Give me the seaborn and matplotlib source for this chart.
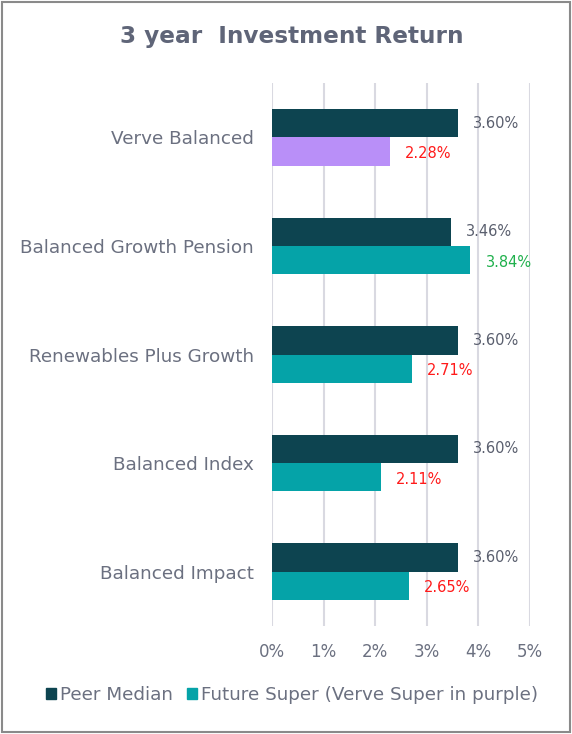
import matplotlib.pyplot as plt
import matplotlib.patches as mpatches
import matplotlib.ticker as mticker
import seaborn as sns
import pandas as pd

funds = ['Verve Balanced', 'Balanced Growth Pension', 'Renewables Plus Growth',
         'Balanced Index', 'Balanced Impact']
peer_median = [3.60, 3.46, 3.60, 3.60, 3.60]
future_super = [2.28, 3.84, 2.71, 2.11, 2.65]
series_names = ['Peer Median', 'Future Super (Verve Super in purple)']

DARK = '#0d4450'
TEAL = '#05a3a8'
PURPLE = '#b98ff8'
TEXT = '#6b7080'
RED = '#ff1a1a'
GREEN = '#1fb04c'

df = pd.DataFrame({
    'fund': funds * 2,
    'value': peer_median + future_super,
    'series': [series_names[0]] * len(funds) + [series_names[1]] * len(funds),
})

sns.set_style('white')
plt.rcParams['font.family'] = ['DejaVu Sans']

fig = plt.figure(figsize=(5.72, 7.34), dpi=100)
ax = fig.add_axes([272 / 572, 1 - 626 / 734, (530 - 272) / 572, (626 - 83) / 734])

sns.barplot(data=df, y='fund', x='value', hue='series', orient='h',
            palette=[DARK, TEAL], width=0.52, saturation=1, ax=ax,
            legend=False, zorder=3, linewidth=0)

# Verve Balanced highlighted in purple
peer_bars = ax.containers[0]
fs_bars = ax.containers[1]
fs_bars.patches[0].set_facecolor(PURPLE)

for i, bar in enumerate(peer_bars.patches):
    v = peer_median[i]
    ax.text(bar.get_width() + 0.3, bar.get_y() + bar.get_height() / 2,
            f'{v:.2f}%', va='center', ha='left', fontsize=10.5, color='#5a5f6e')
for i, bar in enumerate(fs_bars.patches):
    v = future_super[i]
    col = GREEN if v > peer_median[i] else RED
    ax.text(bar.get_width() + 0.3, bar.get_y() + bar.get_height() / 2 + 0.02,
            f'{v:.2f}%', va='center', ha='left', fontsize=10.5, color=col)

ax.set_xlim(0, 5)
ax.set_ylim(4.5, -0.5)
ax.xaxis.set_major_locator(mticker.MultipleLocator(1))
ax.xaxis.set_major_formatter(mticker.FuncFormatter(lambda x, p: f'{x:.0f}%'))
ax.grid(axis='x', color='#d9d9e1', linewidth=1.5, zorder=0)
ax.grid(axis='y', visible=False)
for s in ax.spines.values():
    s.set_visible(False)
ax.set_xlabel('')
ax.set_ylabel('')
ax.tick_params(axis='x', length=0, pad=12, labelsize=12, labelcolor=TEXT)
ax.tick_params(axis='y', length=0, pad=13, labelsize=13.2, labelcolor=TEXT)

fig.text(292 / 572, 1 - 36 / 734, '3 year  Investment Return', ha='center', va='center',
         fontsize=16.7, fontweight='bold', color='#5f6578')

handles = [mpatches.Patch(color=DARK, label=series_names[0]),
           mpatches.Patch(color=TEAL, label=series_names[1])]
fig.legend(handles=handles, loc='center', bbox_to_anchor=(292 / 572, 1 - 695 / 734),
           ncol=2, frameon=False, fontsize=13.2, labelcolor=TEXT,
           handlelength=0.55, handleheight=0.55, handletextpad=0.2, columnspacing=0.8)

fig.add_artist(mpatches.Rectangle((0.003, 0.003), 0.994, 0.994, transform=fig.transFigure,
                                  fill=False, edgecolor='#8a8a8a', linewidth=1.5))

fig.savefig('out.png', dpi=100)
